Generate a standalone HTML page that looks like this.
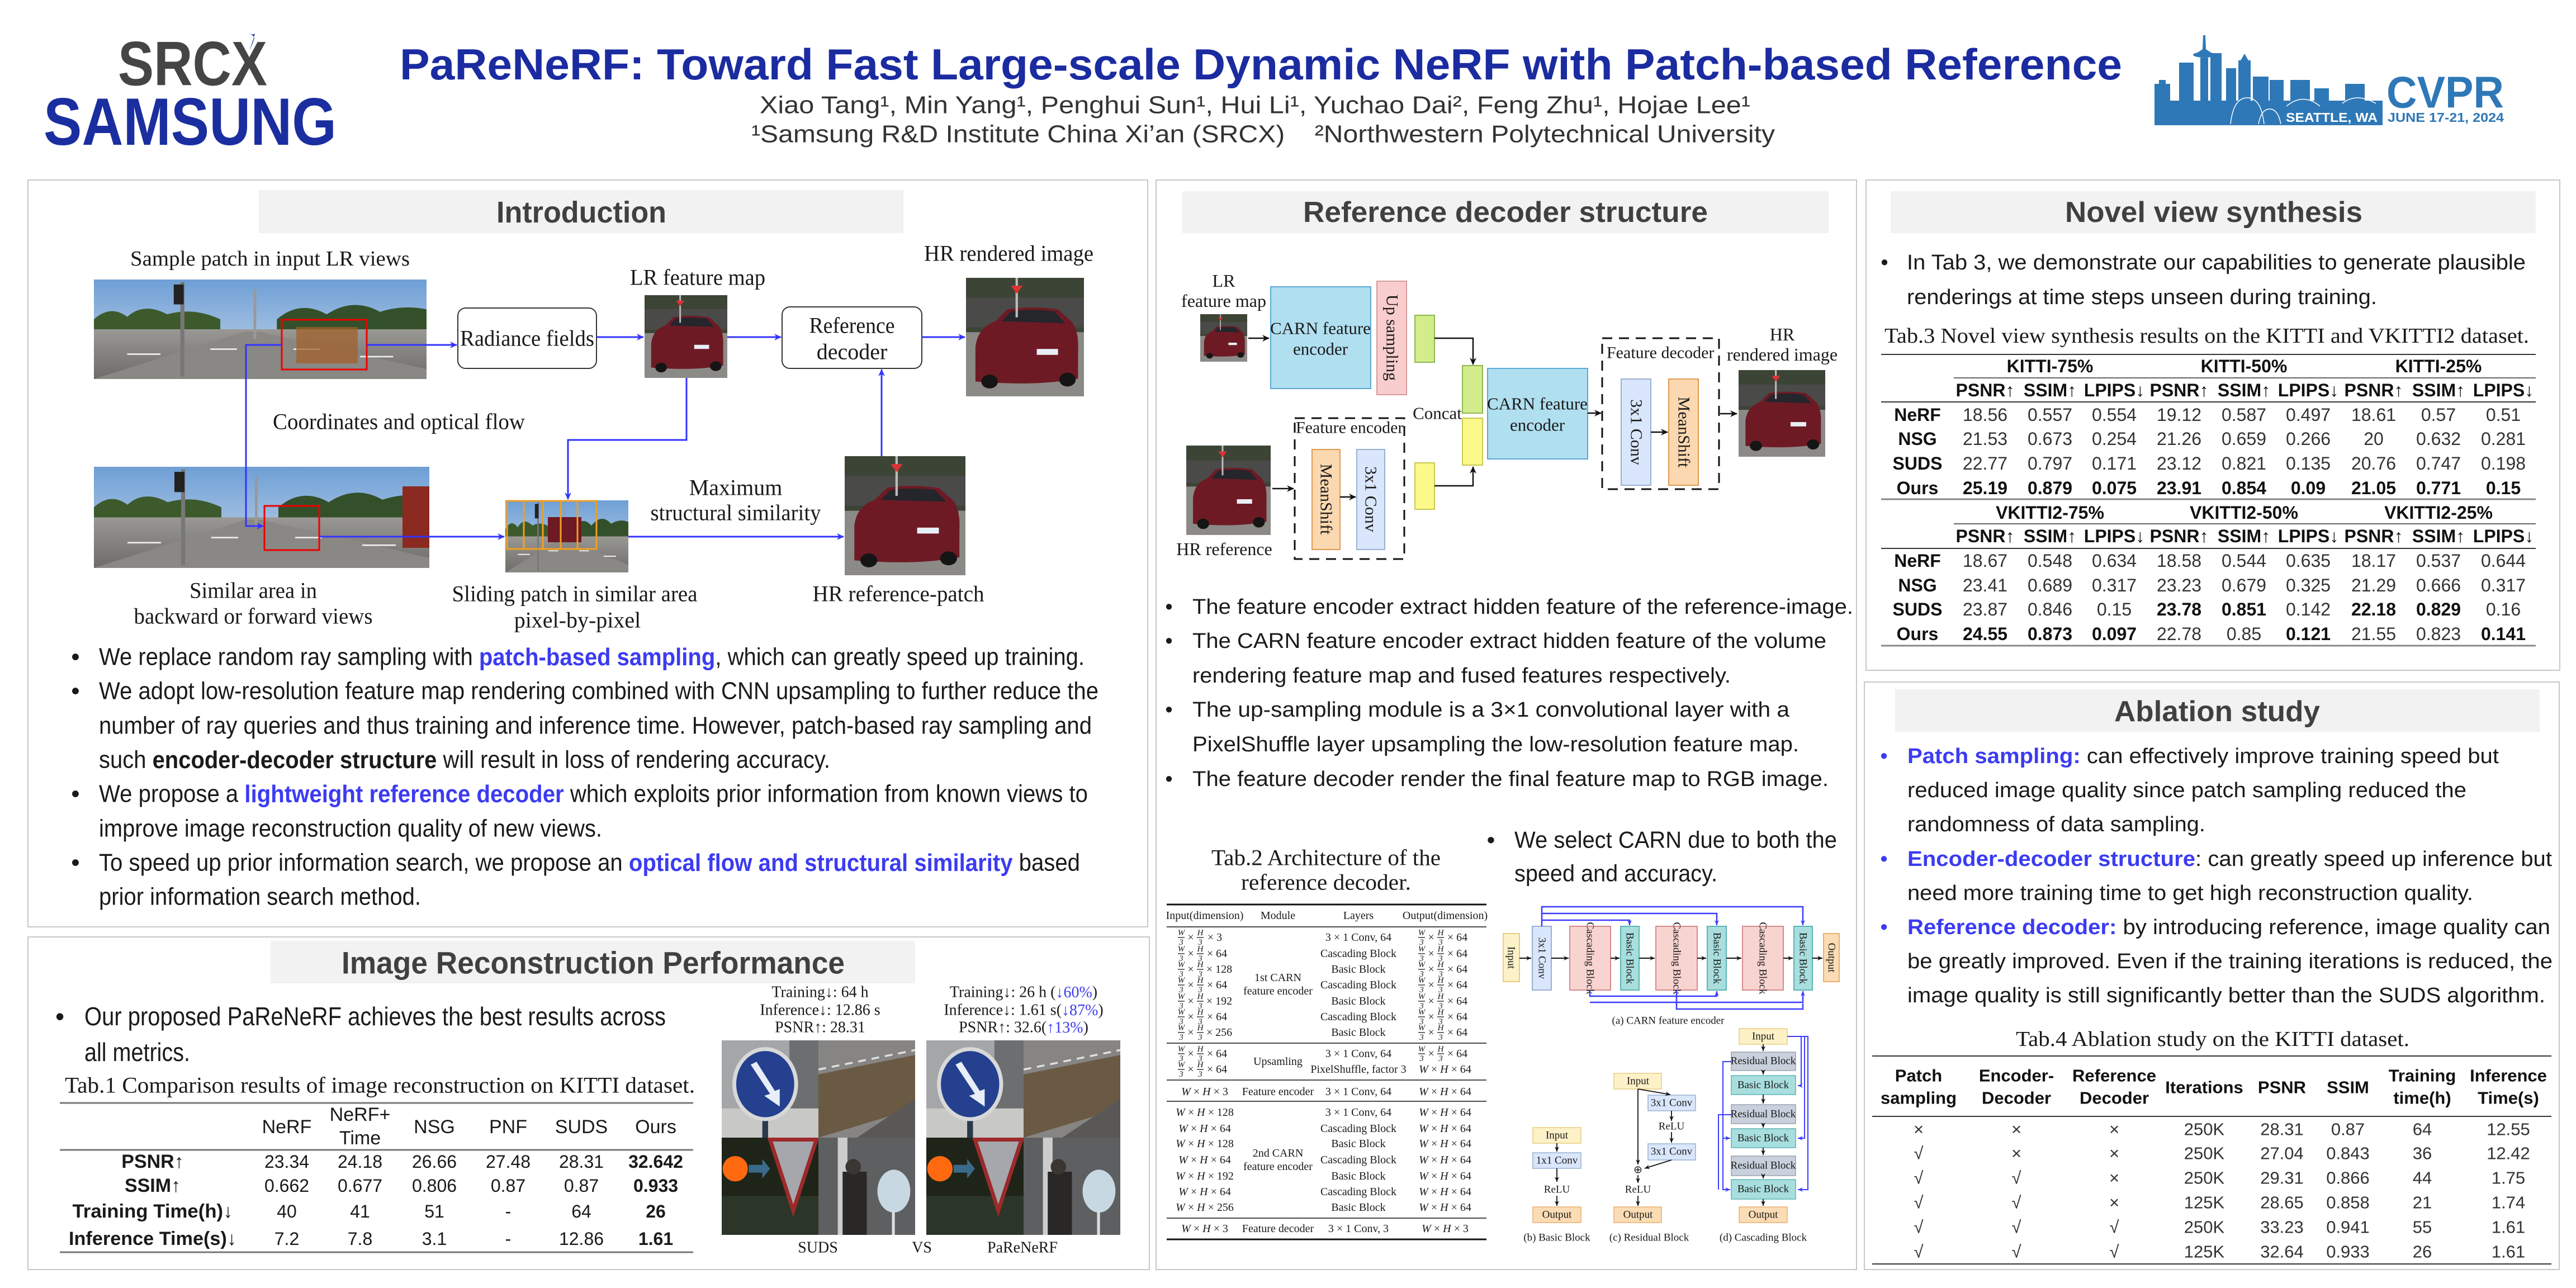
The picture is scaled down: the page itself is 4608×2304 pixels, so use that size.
<!DOCTYPE html>
<html><head><meta charset="utf-8">
<style>
html,body{margin:0;padding:0;background:#fff}
svg{display:block}
text{font-family:"Liberation Sans",sans-serif;dominant-baseline:central;fill:#1a1a1a}
.r{font-family:"Liberation Serif",serif}
.b{font-weight:bold}
.m{text-anchor:middle}
.bl{fill:#3b3bf2;font-weight:bold}
.tt{font-weight:bold;fill:#404040;text-anchor:middle}
.t2 text{font-family:"Liberation Serif",serif;font-size:20px;text-anchor:middle}
.fr text{font-family:"Liberation Serif",serif;font-size:15px;text-anchor:middle;font-style:italic}
.fr text.n{font-style:normal;font-size:20px}
.fr path{stroke:#111;stroke-width:1.2}
.cd text{font-family:"Liberation Serif",serif;font-size:19px;text-anchor:middle}
.nv text{font-size:32px;text-anchor:middle;fill:#333}
.nv text.b{fill:#111}
.ab text{font-size:31px;text-anchor:middle;fill:#333}
.ab text.b{fill:#111}
</style></head><body>
<svg width="4608" height="2304" viewBox="0 0 4608 2304" xmlns="http://www.w3.org/2000/svg">
<defs>
<marker id="ab" markerWidth="14" markerHeight="14" refX="12" refY="7" orient="auto" markerUnits="userSpaceOnUse"><path d="M0,1 L13,7 L0,13 L4,7z" fill="#3333ff"/></marker>
<marker id="ak" markerWidth="14" markerHeight="14" refX="12" refY="7" orient="auto" markerUnits="userSpaceOnUse"><path d="M0,1 L13,7 L0,13 L4,7z" fill="#111"/></marker>
<marker id="ak2" markerWidth="10" markerHeight="10" refX="9" refY="5" orient="auto" markerUnits="userSpaceOnUse"><path d="M0,1 L9,5 L0,9 L3,5z" fill="#111"/></marker>
<marker id="ab2" markerWidth="10" markerHeight="10" refX="9" refY="5" orient="auto" markerUnits="userSpaceOnUse"><path d="M0,1 L9,5 L0,9 L3,5z" fill="#3a3aff"/></marker>
<linearGradient id="sky" x1="0" y1="0" x2="0" y2="1"><stop offset="0" stop-color="#6f9fd6"/><stop offset="1" stop-color="#c9d9ea"/></linearGradient>
<linearGradient id="road" x1="0" y1="0" x2="0" y2="1"><stop offset="0" stop-color="#9a9894"/><stop offset="1" stop-color="#6e6c69"/></linearGradient>
<symbol id="street" viewBox="0 0 100 40" preserveAspectRatio="none">
<rect width="100" height="40" fill="url(#sky)"/>
<path d="M0,16 Q5,10 10,15 Q15,9 22,14 Q30,11 38,16 L38,22 L0,22z" fill="#3d5a2c"/>
<path d="M55,16 Q62,8 70,14 Q78,7 86,13 Q93,10 100,12 L100,22 L55,22z" fill="#34502a"/>
<rect y="20" width="100" height="20" fill="url(#road)"/>
<path d="M0,40 L45,21 L50,21 L100,36 L100,40z" fill="#8a8884"/>
<path d="M10,30 h10 M35,28 h8 M60,28 h8 M80,31 h10" stroke="#eee" stroke-width=".6"/>
<rect x="26" y="1" width="1.2" height="38" fill="#777"/><rect x="24" y="2" width="3" height="8" fill="#222"/>
<rect x="48" y="4" width=".8" height="20" fill="#999"/>
</symbol>
<symbol id="car" viewBox="0 0 100 120" preserveAspectRatio="none">
<rect width="100" height="120" fill="#3c4436"/>
<rect y="20" width="100" height="30" fill="#4a4a48"/>
<rect y="55" width="100" height="65" fill="#8c8a86"/>
<path d="M8,105 L8,70 Q10,50 25,44 L35,32 Q55,28 78,32 L90,45 Q96,55 95,75 L95,102 Q60,110 8,105z" fill="#6e1a24"/>
<path d="M30,44 L38,34 Q56,31 75,34 L84,46z" fill="#25252c"/>
<rect x="60" y="72" width="18" height="6" fill="#e8eef5"/>
<circle cx="20" cy="105" r="7" fill="#151515"/><circle cx="86" cy="103" r="7" fill="#151515"/>
<rect x="42" y="0" width="2" height="40" fill="#bbb"/><path d="M38,8 L48,8 L43,16z" fill="#d33"/>
</symbol>
<symbol id="sg" viewBox="0 0 100 100" preserveAspectRatio="none">
<rect width="100" height="100" fill="#a4a6a8"/><rect x="70" width="30" height="100" fill="#6c6e70"/>
<rect x="0" y="70" width="100" height="30" fill="#c8c8c6"/>
<rect x="42" y="75" width="6" height="25" fill="#2a3a4a"/>
<ellipse cx="45" cy="45" rx="32" ry="36" fill="#24408f" stroke="#d8d8d8" stroke-width="4"/>
<path d="M30,25 L50,55 L44,57 L60,68 L60,50 L55,52 L36,22z" fill="#e8eef8"/>
</symbol>
<symbol id="rd" viewBox="0 0 100 100" preserveAspectRatio="none">
<rect width="100" height="100" fill="#878583"/>
<path d="M0,35 L100,15 L100,70 L0,100z" fill="#6a5a44"/>
<path d="M0,30 L100,10" stroke="#e0e0e0" stroke-width="2" stroke-dasharray="8 6"/>
<path d="M40,100 L100,60 L100,100z" fill="#5a5856"/>
</symbol>
<symbol id="yl" viewBox="0 0 100 100" preserveAspectRatio="none">
<rect width="100" height="100" fill="#1f2419"/>
<rect y="60" width="100" height="40" fill="#2b3628"/>
<circle cx="14" cy="32" r="13" fill="#ff6a10"/>
<path d="M50,2 L98,2 L74,75z" fill="#a5a7ad" stroke="#9c2a2a" stroke-width="4"/>
<path d="M28,28 h14 v-6 l8,10 l-8,10 v-6 h-14z" fill="#3a6a8a"/>
</symbol>
<symbol id="ps" viewBox="0 0 100 100" preserveAspectRatio="none">
<rect width="100" height="100" fill="#5d5f61"/>
<rect x="20" y="0" width="10" height="100" fill="#ccc"/>
<rect x="25" y="35" width="25" height="65" fill="#2a2826"/>
<circle cx="36" cy="30" r="8" fill="#3a3632"/>
<ellipse cx="78" cy="55" rx="17" ry="22" fill="#c8d8e2"/>
<rect x="76" y="75" width="3" height="25" fill="#ddd"/>
</symbol>
</defs>

<!-- ============ HEADER ============ -->
<text x="211" y="114" font-size="112" class="b" fill="#444" style="fill:#454545" textLength="267" lengthAdjust="spacingAndGlyphs">SRCX</text>
<path d="M445,58 Q452,64 456,60 Q452,75 446,90 Q454,75 455,66z" fill="#1a2ea0"/>
<text x="78" y="218" font-size="120" class="b" style="fill:#1a2ea0" textLength="524" lengthAdjust="spacingAndGlyphs">SAMSUNG</text>

<text x="715" y="115" font-size="78" class="b" style="fill:#1b2ba0" textLength="3081" lengthAdjust="spacingAndGlyphs">PaReNeRF: Toward Fast Large-scale Dynamic NeRF with Patch-based Reference</text>
<text x="1359" y="188" font-size="44" style="fill:#333" textLength="1772" lengthAdjust="spacingAndGlyphs">Xiao Tang¹, Min Yang¹, Penghui Sun¹, Hui Li¹, Yuchao Dai², Feng Zhu¹, Hojae Lee¹</text>
<text x="1344" y="240" font-size="44" style="fill:#333" textLength="1831" lengthAdjust="spacingAndGlyphs">¹Samsung R&amp;D Institute China Xi’an (SRCX)&#160;&#160;&#160; ²Northwestern Polytechnical University</text>

<!-- CVPR logo -->
<g fill="#2e78b7">
<rect x="3854" y="180" width="408" height="44"/>
<rect x="3854" y="150" width="28" height="74"/><rect x="3862" y="143" width="12" height="8"/>
<rect x="3898" y="112" width="26" height="112"/>
<rect x="3936" y="103" width="14" height="121"/>
<path d="M3941,63 L3945,63 L3946,88 L3958,96 L3928,96 L3940,88z"/>
<ellipse cx="3943" cy="98" rx="20" ry="5"/>
<rect x="3954" y="95" width="20" height="129"/>
<rect x="3982" y="122" width="18" height="102"/>
<rect x="4004" y="108" width="22" height="116"/><path d="M4008,108 L4015,96 L4022,108z"/>
<rect x="4030" y="137" width="28" height="87"/>
<rect x="4060" y="143" width="25" height="81"/>
<rect x="4097" y="143" width="35" height="81"/>
<rect x="4140" y="158" width="26" height="66"/>
<rect x="4195" y="150" width="35" height="74"/>
</g>
<g stroke="#fff" stroke-width="1.5" fill="none">
<path d="M3990,222 Q3995,175 4020,175 Q4045,175 4050,222"/><path d="M4040,222 Q4045,195 4060,195 Q4075,195 4080,222"/>
<path d="M4090,190 Q4120,165 4150,190"/><path d="M4190,185 Q4215,165 4250,185"/>
</g>
<text x="4171" y="210" font-size="23" class="b m" style="fill:#fff" textLength="164" lengthAdjust="spacingAndGlyphs">SEATTLE, WA</text>
<text x="4269" y="165" font-size="80" class="b" style="fill:#2e78b7" textLength="210" lengthAdjust="spacingAndGlyphs">CVPR</text>
<text x="4271" y="210" font-size="23" class="b" style="fill:#2e78b7" textLength="208" lengthAdjust="spacingAndGlyphs">JUNE 17-21, 2024</text>

<!-- ============ PANELS ============ -->
<g fill="none" stroke="#c8c8c8" stroke-width="2">
<rect x="50" y="322" width="2003" height="1336"/>
<rect x="50" y="1676" width="2006" height="595"/>
<rect x="2068" y="322" width="1253" height="1949"/>
<rect x="3338" y="322" width="1241" height="877"/>
<rect x="3335" y="1220" width="1243" height="1051"/>
</g>
<g fill="#f2f2f2">
<rect x="463" y="340" width="1153" height="77"/>
<rect x="484" y="1683" width="1153" height="76"/>
<rect x="2115" y="342" width="1156" height="75"/>
<rect x="3382" y="342" width="1154" height="75"/>
<rect x="3390" y="1233" width="1153" height="76"/>
</g>
<text x="1040" y="380" font-size="54" class="tt" textLength="304" lengthAdjust="spacingAndGlyphs">Introduction</text>
<text x="1061" y="1722" font-size="56" class="tt" textLength="900" lengthAdjust="spacingAndGlyphs">Image Reconstruction Performance</text>
<text x="2693" y="380" font-size="52" class="tt" textLength="724" lengthAdjust="spacingAndGlyphs">Reference decoder structure</text>
<text x="3960" y="380" font-size="52" class="tt" textLength="532" lengthAdjust="spacingAndGlyphs">Novel view synthesis</text>
<text x="3966" y="1273" font-size="52" class="tt" textLength="368" lengthAdjust="spacingAndGlyphs">Ablation study</text>

<!-- ============ INTRO DIAGRAM ============ -->
<use href="#street" x="168" y="500" width="595" height="178"/>
<rect x="530" y="585" width="110" height="65" fill="#a0602a" opacity=".75"/>
<rect x="504" y="572" width="152" height="89" fill="none" stroke="#e00" stroke-width="3"/>
<use href="#car" x="1153" y="528" width="148" height="148"/>
<use href="#car" x="1728" y="497" width="211" height="212"/>
<use href="#street" x="168" y="835" width="600" height="181"/>
<rect x="473" y="905" width="98" height="79" fill="none" stroke="#e00" stroke-width="3"/>
<rect x="720" y="870" width="48" height="110" fill="#8a2a20"/>
<use href="#street" x="904" y="895" width="220" height="129"/>
<rect x="980" y="925" width="60" height="45" fill="#6e1a24"/>
<g stroke="#f0a020" stroke-width="3" fill="none"><rect x="907" y="896" width="160" height="86"/><path d="M937,896V982M971,896V982M1003,896V982M1033,896V982"/></g>
<use href="#car" x="1511" y="816" width="216" height="213"/>
<rect x="819" y="551" width="248" height="108" rx="14" fill="#fff" stroke="#333" stroke-width="2"/>
<rect x="1399" y="549" width="250" height="110" rx="14" fill="#fff" stroke="#333" stroke-width="2"/>
<g stroke="#3333ff" stroke-width="3" fill="none">
<path d="M656,617 H817" marker-end="url(#ab)"/>
<path d="M504,617 H440 V941 H471" marker-end="url(#ab)"/>
<path d="M1067,603 H1151" marker-end="url(#ab)"/>
<path d="M1301,603 H1397" marker-end="url(#ab)"/>
<path d="M1649,603 H1726" marker-end="url(#ab)"/>
<path d="M1228,676 V787 H1016 V893" marker-end="url(#ab)"/>
<path d="M1577,816 V661" marker-end="url(#ab)"/>
<path d="M571,960 H902" marker-end="url(#ab)"/>
<path d="M1124,960 H1509" marker-end="url(#ab)"/>
</g>
<g class="r" font-size="38">
<text class="r" x="233" y="463" font-size="38" textLength="500" lengthAdjust="spacingAndGlyphs">Sample patch in input LR views</text>
<text class="r" x="823" y="605" font-size="40" textLength="240" lengthAdjust="spacingAndGlyphs">Radiance fields</text>
<text class="r" x="1127" y="496" font-size="40" textLength="242" lengthAdjust="spacingAndGlyphs">LR feature map</text>
<text class="r m" x="1524" y="582" font-size="40" textLength="153" lengthAdjust="spacingAndGlyphs">Reference</text>
<text class="r m" x="1524" y="629" font-size="40">decoder</text>
<text class="r" x="1653" y="453" font-size="40" textLength="303" lengthAdjust="spacingAndGlyphs">HR rendered image</text>
<text class="r" x="488" y="754" font-size="40" textLength="451" lengthAdjust="spacingAndGlyphs">Coordinates and optical flow</text>
<text class="r m" x="1316" y="872" font-size="40">Maximum</text>
<text class="r m" x="1316" y="917" font-size="40" textLength="305" lengthAdjust="spacingAndGlyphs">structural similarity</text>
<text class="r m" x="453" y="1056" font-size="40" textLength="228" lengthAdjust="spacingAndGlyphs">Similar area in</text>
<text class="r m" x="453" y="1102" font-size="40" textLength="427" lengthAdjust="spacingAndGlyphs">backward or forward views</text>
<text class="r m" x="1028" y="1062" font-size="40" textLength="439" lengthAdjust="spacingAndGlyphs">Sliding patch in similar area</text>
<text class="r m" x="1033" y="1109" font-size="40">pixel-by-pixel</text>
<text class="r m" x="1607" y="1062" font-size="40" textLength="307" lengthAdjust="spacingAndGlyphs">HR reference-patch</text>
</g>
<!-- intro bullets -->
<g font-size="44">
<text x="135" y="1175" class="m">•</text><text x="135" y="1236" class="m">•</text><text x="135" y="1420" class="m">•</text><text x="135" y="1543" class="m">•</text>
<text x="177" y="1175" textLength="1763" lengthAdjust="spacingAndGlyphs">We replace random ray sampling with <tspan class="bl">patch-based sampling</tspan>, which can greatly speed up training.</text>
<text x="177" y="1236" textLength="1788" lengthAdjust="spacingAndGlyphs">We adopt low-resolution feature map rendering combined with CNN upsampling to further reduce the</text>
<text x="177" y="1298" textLength="1776" lengthAdjust="spacingAndGlyphs">number of ray queries and thus training and inference time. However, patch-based ray sampling and</text>
<text x="177" y="1359" textLength="1308" lengthAdjust="spacingAndGlyphs">such <tspan class="b">encoder-decoder structure</tspan> will result in loss of rendering accuracy.</text>
<text x="177" y="1420" textLength="1769" lengthAdjust="spacingAndGlyphs">We propose a <tspan class="bl">lightweight reference decoder</tspan> which exploits prior information from known views to</text>
<text x="177" y="1482" textLength="900" lengthAdjust="spacingAndGlyphs">improve image reconstruction quality of new views.</text>
<text x="177" y="1543" textLength="1755" lengthAdjust="spacingAndGlyphs">To speed up prior information search, we propose an <tspan class="bl">optical flow and structural similarity</tspan> based</text>
<text x="177" y="1604" textLength="576" lengthAdjust="spacingAndGlyphs">prior information search method.</text>
</g>

<!-- ============ IMAGE RECONSTRUCTION ============ -->
<text x="107" y="1818" font-size="46" class="m">•</text>
<text x="151" y="1818" font-size="46" textLength="1040" lengthAdjust="spacingAndGlyphs">Our proposed PaReNeRF achieves the best results across</text>
<text x="151" y="1882" font-size="46" textLength="189" lengthAdjust="spacingAndGlyphs">all metrics.</text>
<text class="r" x="116" y="1941" font-size="40" textLength="1127" lengthAdjust="spacingAndGlyphs">Tab.1 Comparison results of image reconstruction on KITTI dataset.</text>
<g stroke="#777" stroke-width="3"><path d="M107,1973H1240M107,2057H1240M107,2240H1240"/></g>
<g font-size="34">
<text class="m" x="513" y="2016">NeRF</text><text class="m" x="644" y="1994">NeRF+</text><text class="m" x="644" y="2036">Time</text>
<text class="m" x="777" y="2016">NSG</text><text class="m" x="909" y="2016">PNF</text><text class="m" x="1040" y="2016">SUDS</text><text class="m" x="1173" y="2016">Ours</text>
<text class="m b" x="273" y="2078">PSNR↑</text><text class="m b" x="273" y="2121">SSIM↑</text>
<text class="m b" x="273" y="2167" textLength="287" lengthAdjust="spacingAndGlyphs">Training Time(h)↓</text>
<text class="m b" x="273" y="2216" textLength="300" lengthAdjust="spacingAndGlyphs">Inference Time(s)↓</text>
</g>
<g font-size="32" style="fill:#333">
<text class="m" x="513" y="2078">23.34</text><text class="m" x="644" y="2078">24.18</text><text class="m" x="777" y="2078">26.66</text><text class="m" x="909" y="2078">27.48</text><text class="m" x="1040" y="2078">28.31</text><text class="m b" x="1173" y="2078">32.642</text>
<text class="m" x="513" y="2121">0.662</text><text class="m" x="644" y="2121">0.677</text><text class="m" x="777" y="2121">0.806</text><text class="m" x="909" y="2121">0.87</text><text class="m" x="1040" y="2121">0.87</text><text class="m b" x="1173" y="2121">0.933</text>
<text class="m" x="513" y="2167">40</text><text class="m" x="644" y="2167">41</text><text class="m" x="777" y="2167">51</text><text class="m" x="909" y="2167">-</text><text class="m" x="1040" y="2167">64</text><text class="m b" x="1173" y="2167">26</text>
<text class="m" x="513" y="2216">7.2</text><text class="m" x="644" y="2216">7.8</text><text class="m" x="777" y="2216">3.1</text><text class="m" x="909" y="2216">-</text><text class="m" x="1040" y="2216">12.86</text><text class="m b" x="1173" y="2216">1.61</text>
</g>
<use href="#sg" x="1291" y="1861" width="173" height="174"/><use href="#rd" x="1464" y="1861" width="173" height="174"/>
<use href="#yl" x="1291" y="2035" width="173" height="174"/><use href="#ps" x="1464" y="2035" width="173" height="174"/>
<use href="#sg" x="1657" y="1861" width="174" height="174"/><use href="#rd" x="1831" y="1861" width="173" height="174"/>
<use href="#yl" x="1657" y="2035" width="174" height="174"/><use href="#ps" x="1831" y="2035" width="173" height="174"/>
<g font-size="28">
<text class="r m" x="1467" y="1775">Training↓: 64 h</text>
<text class="r m" x="1467" y="1807">Inference↓:  12.86 s</text>
<text class="r m" x="1467" y="1838">PSNR↑: 28.31</text>
<text class="r m" x="1831" y="1775">Training↓: 26 h (<tspan style="fill:#3b3bf2">↓60%</tspan>)</text>
<text class="r m" x="1831" y="1807">Inference↓: 1.61 s(<tspan style="fill:#3b3bf2">↓87%</tspan>)</text>
<text class="r m" x="1831" y="1838">PSNR↑: 32.6(<tspan style="fill:#3b3bf2">↑13%</tspan>)</text>
<text class="r m" x="1463" y="2232">SUDS</text><text class="r m" x="1649" y="2232">VS</text><text class="r m" x="1829" y="2232">PaReNeRF</text>
</g>

<!-- ============ REFERENCE DECODER ============ -->
<text class="r m" x="2189" y="502" font-size="32">LR</text>
<text class="r m" x="2189" y="538" font-size="32">feature map</text>
<use href="#car" x="2147" y="562" width="84" height="85"/>
<rect x="2273" y="513" width="179" height="182" fill="#b0dff0" stroke="#5aa9d6" stroke-width="2"/>
<text class="r m" x="2362" y="587" font-size="31">CARN feature</text>
<text class="r m" x="2362" y="624" font-size="31">encoder</text>
<rect x="2463" y="503" width="53" height="203" fill="#f9cdcd" stroke="#d89a9a" stroke-width="2"/>
<text class="r m" x="2490" y="604" font-size="30" transform="rotate(90 2490 604)">Up sampling</text>
<rect x="2531" y="564" width="35" height="84" fill="#d3ec8c" stroke="#8cb84a" stroke-width="2"/>
<rect x="2616" y="654" width="36" height="85" fill="#d3ec8c" stroke="#8cb84a" stroke-width="2"/>
<rect x="2616" y="748" width="36" height="84" fill="#fbf98a" stroke="#c8c850" stroke-width="2"/>
<rect x="2531" y="828" width="35" height="83" fill="#fbf98a" stroke="#c8c850" stroke-width="2"/>
<text class="r m" x="2571" y="739" font-size="31">Concat</text>
<rect x="2661" y="659" width="179" height="162" fill="#b0dff0" stroke="#5aa9d6" stroke-width="2"/>
<text class="r m" x="2750" y="722" font-size="31">CARN feature</text>
<text class="r m" x="2750" y="760" font-size="31">encoder</text>
<rect x="2866" y="605" width="209" height="270" fill="none" stroke="#111" stroke-width="3" stroke-dasharray="18 12"/>
<rect x="2870" y="615" width="182" height="32" fill="#fff"/>
<text class="r" x="2874" y="631" font-size="30">Feature decoder</text>
<rect x="2900" y="678" width="53" height="190" fill="#d9e6fb" stroke="#9ab0d0" stroke-width="2"/>
<text class="r m" x="2927" y="773" font-size="30" transform="rotate(90 2927 773)">3x1 Conv</text>
<rect x="2985" y="678" width="53" height="190" fill="#fbd8b0" stroke="#e09a50" stroke-width="2"/>
<text class="r m" x="3012" y="773" font-size="30" transform="rotate(90 3012 773)">MeanShift</text>
<text class="r m" x="3188" y="598" font-size="32">HR</text>
<text class="r m" x="3188" y="634" font-size="32">rendered image</text>
<use href="#car" x="3110" y="662" width="155" height="155"/>
<use href="#car" x="2122" y="797" width="151" height="160"/>
<text class="r m" x="2190" y="982" font-size="32">HR reference</text>
<rect x="2316" y="748" width="196" height="252" fill="none" stroke="#111" stroke-width="3" stroke-dasharray="18 12"/>
<rect x="2318" y="750" width="190" height="30" fill="#fff"/>
<text class="r" x="2318" y="765" font-size="30">Feature encoder</text>
<rect x="2347" y="804" width="50" height="179" fill="#fbd8b0" stroke="#e09a50" stroke-width="2"/>
<text class="r m" x="2372" y="893" font-size="30" transform="rotate(90 2372 893)">MeanShift</text>
<rect x="2427" y="804" width="50" height="179" fill="#d9e6fb" stroke="#9ab0d0" stroke-width="2"/>
<text class="r m" x="2452" y="893" font-size="30" transform="rotate(90 2452 893)">3x1 Conv</text>
<g stroke="#111" stroke-width="2.5" fill="none">
<path d="M2233,605 H2270" marker-end="url(#ak)"/>
<path d="M2566,605 H2635 V652" marker-end="url(#ak)"/>
<path d="M2566,869 H2635 V835" marker-end="url(#ak)"/>
<path d="M2840,739 H2864" marker-end="url(#ak)"/>
<path d="M2276,874 H2314" marker-end="url(#ak)"/>
<path d="M2397,889 H2425" marker-end="url(#ak)"/>
<path d="M2953,773 H2983" marker-end="url(#ak)"/>
<path d="M3077,740 H3107" marker-end="url(#ak)"/>
</g>
<g font-size="38">
<text x="2091" y="1086" class="m">•</text><text x="2091" y="1147" class="m">•</text><text x="2091" y="1270" class="m">•</text><text x="2091" y="1394" class="m">•</text>
<text x="2133" y="1086" textLength="1182" lengthAdjust="spacingAndGlyphs">The feature encoder extract hidden feature of the reference-image.</text>
<text x="2133" y="1147" textLength="1134" lengthAdjust="spacingAndGlyphs">The CARN feature encoder extract hidden feature of the volume</text>
<text x="2133" y="1209" textLength="963" lengthAdjust="spacingAndGlyphs">rendering feature map and fused features respectively.</text>
<text x="2133" y="1270" textLength="1068" lengthAdjust="spacingAndGlyphs">The up-sampling module is a 3×1 convolutional layer with a</text>
<text x="2133" y="1332" textLength="1085" lengthAdjust="spacingAndGlyphs">PixelShuffle layer upsampling the low-resolution feature map.</text>
<text x="2133" y="1394" textLength="1138" lengthAdjust="spacingAndGlyphs">The feature decoder render the final feature map to RGB image.</text>
</g>
<text class="r m" x="2372" y="1534" font-size="40" textLength="410" lengthAdjust="spacingAndGlyphs">Tab.2 Architecture of the</text>
<text class="r m" x="2372" y="1578" font-size="40" textLength="304" lengthAdjust="spacingAndGlyphs">reference decoder.</text>
<text x="2667" y="1502" font-size="42" class="m">•</text>
<text x="2709" y="1502" font-size="42" textLength="577" lengthAdjust="spacingAndGlyphs">We select CARN due to both the</text>
<text x="2709" y="1562" font-size="42" textLength="363" lengthAdjust="spacingAndGlyphs">speed and accuracy.</text>

<!-- Table 2 -->
<g stroke="#111" fill="none">
<path d="M2087,1618H2659" stroke-width="3"/><path d="M2087,1658H2659M2087,1866H2659M2087,1932H2659M2087,1970H2659M2087,2179H2659" stroke-width="1.5"/><path d="M2087,2217H2659" stroke-width="3"/>
</g>
<g class="t2">
<text x="2155" y="1638">Input(dimension)</text><text x="2286" y="1638">Module</text><text x="2430" y="1638">Layers</text><text x="2585" y="1638">Output(dimension)</text>
<text x="2286" y="1749">1st CARN</text><text x="2286" y="1773">feature encoder</text>
<text x="2430" y="1677">3 × 1 Conv, 64</text><text x="2430" y="1706">Cascading Block</text><text x="2430" y="1734">Basic Block</text><text x="2430" y="1762">Cascading Block</text><text x="2430" y="1791">Basic Block</text><text x="2430" y="1819">Cascading Block</text><text x="2430" y="1847">Basic Block</text>
<text x="2286" y="1899">Upsamling</text>
<text x="2430" y="1885">3 × 1 Conv, 64</text><text x="2430" y="1913">PixelShuffle, factor 3</text>
<text x="2155" y="1953"><tspan font-style="italic">W</tspan> × <tspan font-style="italic">H</tspan> × 3</text><text x="2286" y="1953">Feature encoder</text><text x="2430" y="1953">3 × 1 Conv, 64</text><text x="2585" y="1953"><tspan font-style="italic">W</tspan> × <tspan font-style="italic">H</tspan> × 64</text>
<text x="2286" y="2063">2nd CARN</text><text x="2286" y="2087">feature encoder</text>
<text x="2430" y="1990">3 × 1 Conv, 64</text><text x="2430" y="2019">Cascading Block</text><text x="2430" y="2046">Basic Block</text><text x="2430" y="2075">Cascading Block</text><text x="2430" y="2104">Basic Block</text><text x="2430" y="2132">Cascading Block</text><text x="2430" y="2160">Basic Block</text>
<text x="2155" y="1990"><tspan font-style="italic">W</tspan> × <tspan font-style="italic">H</tspan> × 128</text>
<text x="2155" y="2019"><tspan font-style="italic">W</tspan> × <tspan font-style="italic">H</tspan> × 64</text>
<text x="2155" y="2046"><tspan font-style="italic">W</tspan> × <tspan font-style="italic">H</tspan> × 128</text>
<text x="2155" y="2075"><tspan font-style="italic">W</tspan> × <tspan font-style="italic">H</tspan> × 64</text>
<text x="2155" y="2104"><tspan font-style="italic">W</tspan> × <tspan font-style="italic">H</tspan> × 192</text>
<text x="2155" y="2132"><tspan font-style="italic">W</tspan> × <tspan font-style="italic">H</tspan> × 64</text>
<text x="2155" y="2160"><tspan font-style="italic">W</tspan> × <tspan font-style="italic">H</tspan> × 256</text>
<text x="2585" y="1990"><tspan font-style="italic">W</tspan> × <tspan font-style="italic">H</tspan> × 64</text>
<text x="2585" y="2019"><tspan font-style="italic">W</tspan> × <tspan font-style="italic">H</tspan> × 64</text>
<text x="2585" y="2046"><tspan font-style="italic">W</tspan> × <tspan font-style="italic">H</tspan> × 64</text>
<text x="2585" y="2075"><tspan font-style="italic">W</tspan> × <tspan font-style="italic">H</tspan> × 64</text>
<text x="2585" y="2104"><tspan font-style="italic">W</tspan> × <tspan font-style="italic">H</tspan> × 64</text>
<text x="2585" y="2132"><tspan font-style="italic">W</tspan> × <tspan font-style="italic">H</tspan> × 64</text>
<text x="2585" y="2160"><tspan font-style="italic">W</tspan> × <tspan font-style="italic">H</tspan> × 64</text>
<text x="2585" y="1913"><tspan font-style="italic">W</tspan> × <tspan font-style="italic">H</tspan> × 64</text>
<text x="2155" y="2198"><tspan font-style="italic">W</tspan> × <tspan font-style="italic">H</tspan> × 3</text><text x="2286" y="2198">Feature decoder</text><text x="2430" y="2198">3 × 1 Conv, 3</text><text x="2585" y="2198"><tspan font-style="italic">W</tspan> × <tspan font-style="italic">H</tspan> × 3</text>
</g>
<!-- fraction cells: input column -->
<g class="fr">
<g transform="translate(2155,1677)"><text x="-42" y="-8">W</text><text x="-42" y="9">3</text><text class="n" x="-25" y="0">×</text><text x="-8" y="-8">H</text><text x="-8" y="9">3</text><text class="n" x="18" y="0">× 3</text><path d="M-48 0h12M-14 0h12"/></g>
<g transform="translate(2155,1706)"><text x="-42" y="-8">W</text><text x="-42" y="9">3</text><text class="n" x="-25" y="0">×</text><text x="-8" y="-8">H</text><text x="-8" y="9">3</text><text class="n" x="22" y="0">× 64</text><path d="M-48 0h12M-14 0h12"/></g>
<g transform="translate(2155,1734)"><text x="-42" y="-8">W</text><text x="-42" y="9">3</text><text class="n" x="-25" y="0">×</text><text x="-8" y="-8">H</text><text x="-8" y="9">3</text><text class="n" x="26" y="0">× 128</text><path d="M-48 0h12M-14 0h12"/></g>
<g transform="translate(2155,1762)"><text x="-42" y="-8">W</text><text x="-42" y="9">3</text><text class="n" x="-25" y="0">×</text><text x="-8" y="-8">H</text><text x="-8" y="9">3</text><text class="n" x="22" y="0">× 64</text><path d="M-48 0h12M-14 0h12"/></g>
<g transform="translate(2155,1791)"><text x="-42" y="-8">W</text><text x="-42" y="9">3</text><text class="n" x="-25" y="0">×</text><text x="-8" y="-8">H</text><text x="-8" y="9">3</text><text class="n" x="26" y="0">× 192</text><path d="M-48 0h12M-14 0h12"/></g>
<g transform="translate(2155,1819)"><text x="-42" y="-8">W</text><text x="-42" y="9">3</text><text class="n" x="-25" y="0">×</text><text x="-8" y="-8">H</text><text x="-8" y="9">3</text><text class="n" x="22" y="0">× 64</text><path d="M-48 0h12M-14 0h12"/></g>
<g transform="translate(2155,1847)"><text x="-42" y="-8">W</text><text x="-42" y="9">3</text><text class="n" x="-25" y="0">×</text><text x="-8" y="-8">H</text><text x="-8" y="9">3</text><text class="n" x="26" y="0">× 256</text><path d="M-48 0h12M-14 0h12"/></g>
<g transform="translate(2155,1885)"><text x="-42" y="-8">W</text><text x="-42" y="9">3</text><text class="n" x="-25" y="0">×</text><text x="-8" y="-8">H</text><text x="-8" y="9">3</text><text class="n" x="22" y="0">× 64</text><path d="M-48 0h12M-14 0h12"/></g>
<g transform="translate(2155,1913)"><text x="-42" y="-8">W</text><text x="-42" y="9">3</text><text class="n" x="-25" y="0">×</text><text x="-8" y="-8">H</text><text x="-8" y="9">3</text><text class="n" x="22" y="0">× 64</text><path d="M-48 0h12M-14 0h12"/></g>
<!-- output column -->
<g transform="translate(2585,1677)"><text x="-42" y="-8">W</text><text x="-42" y="9">3</text><text class="n" x="-25" y="0">×</text><text x="-8" y="-8">H</text><text x="-8" y="9">3</text><text class="n" x="22" y="0">× 64</text><path d="M-48 0h12M-14 0h12"/></g>
<g transform="translate(2585,1706)"><text x="-42" y="-8">W</text><text x="-42" y="9">3</text><text class="n" x="-25" y="0">×</text><text x="-8" y="-8">H</text><text x="-8" y="9">3</text><text class="n" x="22" y="0">× 64</text><path d="M-48 0h12M-14 0h12"/></g>
<g transform="translate(2585,1734)"><text x="-42" y="-8">W</text><text x="-42" y="9">3</text><text class="n" x="-25" y="0">×</text><text x="-8" y="-8">H</text><text x="-8" y="9">3</text><text class="n" x="22" y="0">× 64</text><path d="M-48 0h12M-14 0h12"/></g>
<g transform="translate(2585,1762)"><text x="-42" y="-8">W</text><text x="-42" y="9">3</text><text class="n" x="-25" y="0">×</text><text x="-8" y="-8">H</text><text x="-8" y="9">3</text><text class="n" x="22" y="0">× 64</text><path d="M-48 0h12M-14 0h12"/></g>
<g transform="translate(2585,1791)"><text x="-42" y="-8">W</text><text x="-42" y="9">3</text><text class="n" x="-25" y="0">×</text><text x="-8" y="-8">H</text><text x="-8" y="9">3</text><text class="n" x="22" y="0">× 64</text><path d="M-48 0h12M-14 0h12"/></g>
<g transform="translate(2585,1819)"><text x="-42" y="-8">W</text><text x="-42" y="9">3</text><text class="n" x="-25" y="0">×</text><text x="-8" y="-8">H</text><text x="-8" y="9">3</text><text class="n" x="22" y="0">× 64</text><path d="M-48 0h12M-14 0h12"/></g>
<g transform="translate(2585,1847)"><text x="-42" y="-8">W</text><text x="-42" y="9">3</text><text class="n" x="-25" y="0">×</text><text x="-8" y="-8">H</text><text x="-8" y="9">3</text><text class="n" x="22" y="0">× 64</text><path d="M-48 0h12M-14 0h12"/></g>
<g transform="translate(2585,1885)"><text x="-42" y="-8">W</text><text x="-42" y="9">3</text><text class="n" x="-25" y="0">×</text><text x="-8" y="-8">H</text><text x="-8" y="9">3</text><text class="n" x="22" y="0">× 64</text><path d="M-48 0h12M-14 0h12"/></g>
</g>

<!-- CARN (a) -->
<g stroke-width="2">
<rect x="2689" y="1670" width="29" height="86" fill="#fdf1c8" stroke="#e8cc80"/>
<rect x="2741" y="1657" width="34" height="114" fill="#d9e6fb" stroke="#9ab0d0"/>
<rect x="2808" y="1657" width="73" height="114" fill="#f8d4d0" stroke="#d88a8a"/>
<rect x="2899" y="1657" width="33" height="114" fill="#a8dede" stroke="#5bb5b5"/>
<rect x="2962" y="1657" width="74" height="114" fill="#f8d4d0" stroke="#d88a8a"/>
<rect x="3054" y="1657" width="34" height="114" fill="#a8dede" stroke="#5bb5b5"/>
<rect x="3117" y="1657" width="73" height="114" fill="#f8d4d0" stroke="#d88a8a"/>
<rect x="3209" y="1657" width="33" height="114" fill="#a8dede" stroke="#5bb5b5"/>
<rect x="3262" y="1670" width="28" height="86" fill="#fbdcb4" stroke="#e8b070"/>
</g>
<g class="cd">
<text x="2703" y="1713" transform="rotate(90 2703 1713)" font-size="17">Input</text>
<text x="2758" y="1714" transform="rotate(90 2758 1714)" font-size="18">3x1 Conv</text>
<text x="2844" y="1714" transform="rotate(90 2844 1714)" font-size="18">Cascading Block</text>
<text x="2915" y="1714" transform="rotate(90 2915 1714)" font-size="18">Basic Block</text>
<text x="2999" y="1714" transform="rotate(90 2999 1714)" font-size="18">Cascading Block</text>
<text x="3071" y="1714" transform="rotate(90 3071 1714)" font-size="18">Basic Block</text>
<text x="3153" y="1714" transform="rotate(90 3153 1714)" font-size="18">Cascading Block</text>
<text x="3225" y="1714" transform="rotate(90 3225 1714)" font-size="18">Basic Block</text>
<text x="3276" y="1713" transform="rotate(90 3276 1713)" font-size="17">Output</text>
<text x="2984" y="1826">(a) CARN  feature encoder</text>
</g>
<g stroke="#111" stroke-width="2" fill="none">
<path d="M2718,1714H2739M2775,1714H2806M2881,1714H2897M2932,1714H2960M3036,1714H3052M3088,1714H3115M3190,1714H3207M3242,1714H3260" marker-end="url(#ak2)"/>
</g>
<g stroke="#111" stroke-width="2" fill="none" marker-end="url(#ak2)">
<path d="M2718,1714H2739"/><path d="M2775,1714H2806"/><path d="M2881,1714H2897"/><path d="M2932,1714H2960"/><path d="M3036,1714H3052"/><path d="M3088,1714H3115"/><path d="M3190,1714H3207"/><path d="M3242,1714H3260"/>
</g>
<g stroke="#3a3aff" stroke-width="2.5" fill="none">
<path d="M2758,1657V1622H3225V1655" marker-end="url(#ab2)"/>
<path d="M2758,1634H3071V1655" marker-end="url(#ab2)"/>
<path d="M2758,1646H2915V1655" marker-end="url(#ab2)"/>
<path d="M2844,1771V1782H3071V1773" marker-end="url(#ab2)"/>
<path d="M2844,1793H3225V1773" marker-end="url(#ab2)"/>
<path d="M2999,1771V1805H3225V1795"/>
</g>
<!-- (b) basic block -->
<g stroke-width="1.5">
<rect x="2742" y="2017" width="86" height="28" fill="#fdf1c8" stroke="#e8cc80"/>
<rect x="2742" y="2062" width="86" height="28" fill="#d9e6fb" stroke="#9ab0d0"/>
<rect x="2742" y="2159" width="86" height="28" fill="#fbdcb4" stroke="#e8b070"/>
<rect x="2887" y="1920" width="85" height="28" fill="#fdf1c8" stroke="#e8cc80"/>
<rect x="2948" y="1959" width="85" height="28" fill="#d9e6fb" stroke="#9ab0d0"/>
<rect x="2948" y="2046" width="85" height="29" fill="#d9e6fb" stroke="#9ab0d0"/>
<rect x="2887" y="2159" width="85" height="28" fill="#fbdcb4" stroke="#e8b070"/>
<rect x="3111" y="1840" width="86" height="28" fill="#fdf1c8" stroke="#e8cc80"/>
<rect x="3097" y="1882" width="115" height="33" fill="#c8d0dc" stroke="#9aa4b4"/>
<rect x="3097" y="1924" width="115" height="34" fill="#a8dede" stroke="#5bb5b5"/>
<rect x="3097" y="1976" width="115" height="34" fill="#c8d0dc" stroke="#9aa4b4"/>
<rect x="3097" y="2019" width="115" height="34" fill="#a8dede" stroke="#5bb5b5"/>
<rect x="3097" y="2068" width="115" height="35" fill="#c8d0dc" stroke="#9aa4b4"/>
<rect x="3097" y="2110" width="115" height="35" fill="#a8dede" stroke="#5bb5b5"/>
<rect x="3111" y="2159" width="86" height="28" fill="#fbdcb4" stroke="#e8b070"/>
</g>
<g class="cd">
<text x="2785" y="2031">Input</text><text x="2785" y="2076">1x1 Conv</text><text x="2785" y="2128">ReLU</text><text x="2785" y="2173">Output</text>
<text x="2785" y="2214">(b) Basic Block</text>
<text x="2930" y="1934">Input</text><text x="2990" y="1973">3x1 Conv</text><text x="2990" y="2015">ReLU</text><text x="2990" y="2060">3x1 Conv</text>
<text x="2930" y="2093">⊕</text><text x="2930" y="2128">ReLU</text><text x="2930" y="2173">Output</text>
<text x="2950" y="2214">(c) Residual Block</text>
<text x="3154" y="1854">Input</text><text x="3154" y="1898">Residual Block</text><text x="3154" y="1941">Basic Block</text><text x="3154" y="1993">Residual Block</text><text x="3154" y="2036">Basic Block</text><text x="3154" y="2085">Residual Block</text><text x="3154" y="2127">Basic Block</text><text x="3154" y="2173">Output</text>
<text x="3154" y="2214">(d) Cascading Block</text>
</g>
<g stroke="#111" stroke-width="1.8" fill="none" marker-end="url(#ak2)">
<path d="M2785,2045V2060"/><path d="M2785,2090V2114"/><path d="M2785,2139V2157"/>
<path d="M2930,1948L2988,1958"/><path d="M2990,1987V2005"/><path d="M2990,2025V2044"/><path d="M2990,2075L2942,2090"/>
<path d="M2930,1948V2083"/><path d="M2930,2102V2116"/><path d="M2930,2139V2157"/>
<path d="M3154,1868V1880"/><path d="M3154,1915V1922"/><path d="M3154,1958V1974"/><path d="M3154,2010V2017"/><path d="M3154,2053V2066"/><path d="M3154,2103V2108"/><path d="M3154,2145V2157"/>
</g>
<g stroke="#3a3aff" stroke-width="2" fill="none">
<path d="M3197,1854H3234V2128H3216" marker-end="url(#ab2)"/>
<path d="M3228,1854V2036H3216" marker-end="url(#ab2)"/>
<path d="M3222,1854V1942H3216" marker-end="url(#ab2)"/>
<path d="M3097,1899H3082V2128H3095" marker-end="url(#ab2)"/>
<path d="M3082,2036H3095" marker-end="url(#ab2)"/>
<path d="M3097,1994H3074V2128"/>
</g>

<!-- ============ NOVEL VIEW ============ -->
<text x="3371" y="470" font-size="38" class="m">•</text>
<text x="3411" y="470" font-size="38" textLength="1107" lengthAdjust="spacingAndGlyphs">In Tab 3, we demonstrate our capabilities to generate plausible</text>
<text x="3411" y="532" font-size="38" textLength="841" lengthAdjust="spacingAndGlyphs">renderings at time steps unseen during training.</text>
<text class="r" x="3371" y="601" font-size="38" textLength="1153" lengthAdjust="spacingAndGlyphs">Tab.3 Novel view synthesis results on the KITTI and VKITTI2 dataset.</text>
<g stroke="#333" fill="none">
<path d="M3365,634H4536M3365,719H4536M3365,981H4536" stroke-width="2"/>
<path d="M3495,676H4536M3495,937H4536" stroke-width="1.5"/>
<path d="M3365,893H4536M3365,1155H4536" stroke="#888" stroke-width="3"/>
</g>
<g class="nv">
<text class="b" x="3667" y="655">KITTI-75%</text><text class="b" x="4014" y="655">KITTI-50%</text><text class="b" x="4362" y="655">KITTI-25%</text>
<text class="b" x="3667" y="917">VKITTI2-75%</text><text class="b" x="4014" y="917">VKITTI2-50%</text><text class="b" x="4362" y="917">VKITTI2-25%</text>
<g font-size="30">
<text class="b" x="3551" y="698" font-size="30">PSNR↑</text><text class="b" x="3667" y="698" font-size="30">SSIM↑</text><text class="b" x="3782" y="698" font-size="30">LPIPS↓</text>
<text class="b" x="3898" y="698" font-size="30">PSNR↑</text><text class="b" x="4014" y="698" font-size="30">SSIM↑</text><text class="b" x="4129" y="698" font-size="30">LPIPS↓</text>
<text class="b" x="4246" y="698" font-size="30">PSNR↑</text><text class="b" x="4362" y="698" font-size="30">SSIM↑</text><text class="b" x="4478" y="698" font-size="30">LPIPS↓</text>
<text class="b" x="3551" y="959" font-size="30">PSNR↑</text><text class="b" x="3667" y="959" font-size="30">SSIM↑</text><text class="b" x="3782" y="959" font-size="30">LPIPS↓</text>
<text class="b" x="3898" y="959" font-size="30">PSNR↑</text><text class="b" x="4014" y="959" font-size="30">SSIM↑</text><text class="b" x="4129" y="959" font-size="30">LPIPS↓</text>
<text class="b" x="4246" y="959" font-size="30">PSNR↑</text><text class="b" x="4362" y="959" font-size="30">SSIM↑</text><text class="b" x="4478" y="959" font-size="30">LPIPS↓</text>
</g>
<text class="b" x="3430" y="742">NeRF</text><text class="b" x="3430" y="785">NSG</text><text class="b" x="3430" y="829">SUDS</text><text class="b" x="3430" y="873">Ours</text>
<text class="b" x="3430" y="1003">NeRF</text><text class="b" x="3430" y="1047">NSG</text><text class="b" x="3430" y="1090">SUDS</text><text class="b" x="3430" y="1134">Ours</text>
<text x="3551" y="742">18.56</text><text x="3667" y="742">0.557</text><text x="3782" y="742">0.554</text><text x="3898" y="742">19.12</text><text x="4014" y="742">0.587</text><text x="4129" y="742">0.497</text><text x="4246" y="742">18.61</text><text x="4362" y="742">0.57</text><text x="4478" y="742">0.51</text>
<text x="3551" y="785">21.53</text><text x="3667" y="785">0.673</text><text x="3782" y="785">0.254</text><text x="3898" y="785">21.26</text><text x="4014" y="785">0.659</text><text x="4129" y="785">0.266</text><text x="4246" y="785">20</text><text x="4362" y="785">0.632</text><text x="4478" y="785">0.281</text>
<text x="3551" y="829">22.77</text><text x="3667" y="829">0.797</text><text x="3782" y="829">0.171</text><text x="3898" y="829">23.12</text><text x="4014" y="829">0.821</text><text x="4129" y="829">0.135</text><text x="4246" y="829">20.76</text><text x="4362" y="829">0.747</text><text x="4478" y="829">0.198</text>
<text class="b" x="3551" y="873">25.19</text><text class="b" x="3667" y="873">0.879</text><text class="b" x="3782" y="873">0.075</text><text class="b" x="3898" y="873">23.91</text><text class="b" x="4014" y="873">0.854</text><text class="b" x="4129" y="873">0.09</text><text class="b" x="4246" y="873">21.05</text><text class="b" x="4362" y="873">0.771</text><text class="b" x="4478" y="873">0.15</text>
<text x="3551" y="1003">18.67</text><text x="3667" y="1003">0.548</text><text x="3782" y="1003">0.634</text><text x="3898" y="1003">18.58</text><text x="4014" y="1003">0.544</text><text x="4129" y="1003">0.635</text><text x="4246" y="1003">18.17</text><text x="4362" y="1003">0.537</text><text x="4478" y="1003">0.644</text>
<text x="3551" y="1047">23.41</text><text x="3667" y="1047">0.689</text><text x="3782" y="1047">0.317</text><text x="3898" y="1047">23.23</text><text x="4014" y="1047">0.679</text><text x="4129" y="1047">0.325</text><text x="4246" y="1047">21.29</text><text x="4362" y="1047">0.666</text><text x="4478" y="1047">0.317</text>
<text x="3551" y="1090">23.87</text><text x="3667" y="1090">0.846</text><text x="3782" y="1090">0.15</text><text class="b" x="3898" y="1090">23.78</text><text class="b" x="4014" y="1090">0.851</text><text x="4129" y="1090">0.142</text><text class="b" x="4246" y="1090">22.18</text><text class="b" x="4362" y="1090">0.829</text><text x="4478" y="1090">0.16</text>
<text class="b" x="3551" y="1134">24.55</text><text class="b" x="3667" y="1134">0.873</text><text class="b" x="3782" y="1134">0.097</text><text x="3898" y="1134">22.78</text><text x="4014" y="1134">0.85</text><text class="b" x="4129" y="1134">0.121</text><text x="4246" y="1134">21.55</text><text x="4362" y="1134">0.823</text><text class="b" x="4478" y="1134">0.141</text>
</g>

<!-- ============ ABLATION ============ -->
<g font-size="38">
<text x="3370" y="1353" class="m" style="fill:#3b3bf2">•</text><text x="3370" y="1537" class="m" style="fill:#3b3bf2">•</text><text x="3370" y="1659" class="m" style="fill:#3b3bf2">•</text>
<text x="3412" y="1353" textLength="1058" lengthAdjust="spacingAndGlyphs"><tspan class="bl">Patch sampling:</tspan> can effectively improve training speed but</text>
<text x="3412" y="1414" textLength="1000" lengthAdjust="spacingAndGlyphs">reduced image quality since patch sampling reduced the</text>
<text x="3412" y="1475" textLength="533" lengthAdjust="spacingAndGlyphs">randomness of data sampling.</text>
<text x="3412" y="1537" textLength="1153" lengthAdjust="spacingAndGlyphs"><tspan class="bl">Encoder-decoder structure</tspan>: can greatly speed up inference but</text>
<text x="3412" y="1598" textLength="1012" lengthAdjust="spacingAndGlyphs">need more training time to get high reconstruction quality.</text>
<text x="3412" y="1659" textLength="1150" lengthAdjust="spacingAndGlyphs"><tspan class="bl">Reference decoder:</tspan> by introducing reference, image quality can</text>
<text x="3412" y="1720" textLength="1154" lengthAdjust="spacingAndGlyphs">be greatly improved. Even if the training iterations is reduced, the</text>
<text x="3412" y="1781" textLength="1141" lengthAdjust="spacingAndGlyphs">image quality is still significantly better than the SUDS algorithm.</text>
</g>
<text class="r m" x="3958" y="1859" font-size="38" textLength="704" lengthAdjust="spacingAndGlyphs">Tab.4 Ablation study on the KITTI dataset.</text>
<g stroke="#333" stroke-width="2"><path d="M3349,1889H4564M3349,1997H4564M3349,2261H4564"/></g>
<g class="ab">
<text class="b" x="3432" y="1924">Patch</text><text class="b" x="3432" y="1964">sampling</text>
<text class="b" x="3607" y="1924">Encoder-</text><text class="b" x="3607" y="1964">Decoder</text>
<text class="b" x="3782" y="1924">Reference</text><text class="b" x="3782" y="1964">Decoder</text>
<text class="b" x="3943" y="1945">Iterations</text><text class="b" x="4082" y="1945">PSNR</text><text class="b" x="4200" y="1945">SSIM</text>
<text class="b" x="4333" y="1924">Training</text><text class="b" x="4333" y="1964">time(h)</text>
<text class="b" x="4487" y="1924">Inference</text><text class="b" x="4487" y="1964">Time(s)</text>
<text x="3432" y="2020">×</text><text x="3607" y="2020">×</text><text x="3782" y="2020">×</text><text x="3943" y="2020">250K</text><text x="4082" y="2020">28.31</text><text x="4200" y="2020">0.87</text><text x="4333" y="2020">64</text><text x="4487" y="2020">12.55</text>
<text x="3432" y="2063">√</text><text x="3607" y="2063">×</text><text x="3782" y="2063">×</text><text x="3943" y="2063">250K</text><text x="4082" y="2063">27.04</text><text x="4200" y="2063">0.843</text><text x="4333" y="2063">36</text><text x="4487" y="2063">12.42</text>
<text x="3432" y="2107">√</text><text x="3607" y="2107">√</text><text x="3782" y="2107">×</text><text x="3943" y="2107">250K</text><text x="4082" y="2107">29.31</text><text x="4200" y="2107">0.866</text><text x="4333" y="2107">44</text><text x="4487" y="2107">1.75</text>
<text x="3432" y="2151">√</text><text x="3607" y="2151">√</text><text x="3782" y="2151">×</text><text x="3943" y="2151">125K</text><text x="4082" y="2151">28.65</text><text x="4200" y="2151">0.858</text><text x="4333" y="2151">21</text><text x="4487" y="2151">1.74</text>
<text x="3432" y="2195">√</text><text x="3607" y="2195">√</text><text x="3782" y="2195">√</text><text x="3943" y="2195">250K</text><text x="4082" y="2195">33.23</text><text x="4200" y="2195">0.941</text><text x="4333" y="2195">55</text><text x="4487" y="2195">1.61</text>
<text x="3432" y="2239">√</text><text x="3607" y="2239">√</text><text x="3782" y="2239">√</text><text x="3943" y="2239">125K</text><text x="4082" y="2239">32.64</text><text x="4200" y="2239">0.933</text><text x="4333" y="2239">26</text><text x="4487" y="2239">1.61</text>
</g>
</svg>
</body></html>
